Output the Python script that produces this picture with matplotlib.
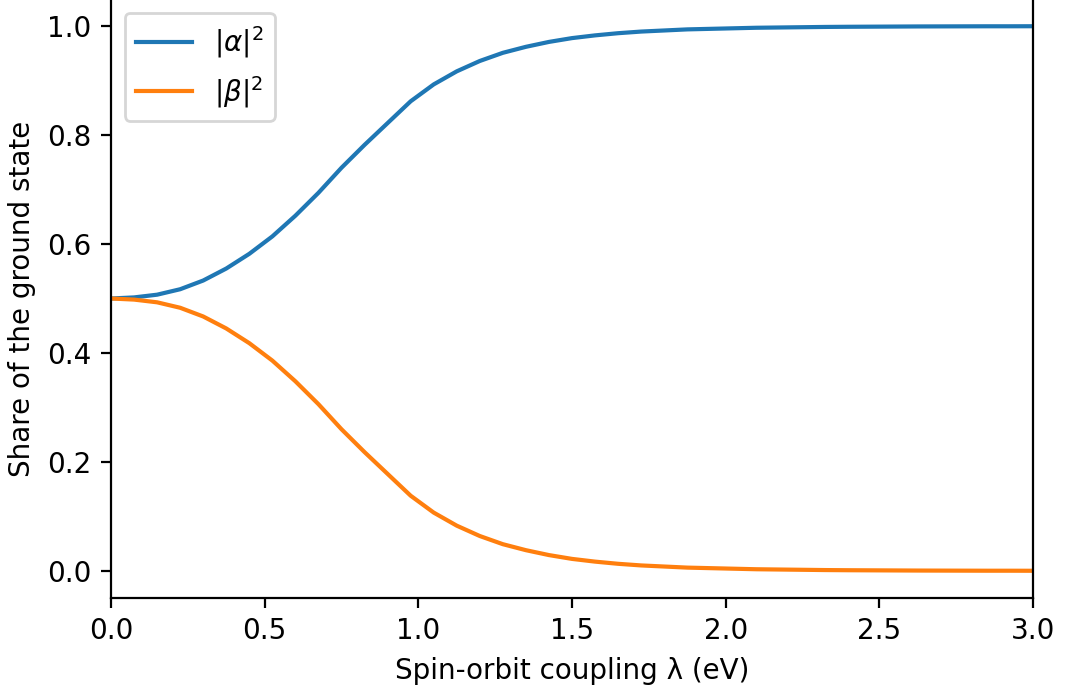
import matplotlib
matplotlib.use("Agg")
import matplotlib.pyplot as plt
import numpy as np

# spin-orbit coupling strength (eV)
lam = np.arange(41) * 0.075

# weight of each basis state in the ground state
alpha_sq = [0.500, 0.502, 0.507, 0.517, 0.533, 0.555, 0.582, 0.614, 0.652, 0.694,
            0.740, 0.782, 0.822, 0.862, 0.893, 0.917, 0.936, 0.951, 0.962, 0.971,
            0.978, 0.983, 0.987, 0.990, 0.992, 0.994, 0.995, 0.996, 0.997, 0.9975,
            0.998, 0.9985, 0.9988, 0.999, 0.9992, 0.9994, 0.9995, 0.9996, 0.9997,
            0.9997, 0.9998]
beta_sq = [0.500, 0.498, 0.493, 0.483, 0.467, 0.445, 0.418, 0.386, 0.348, 0.306,
           0.260, 0.218, 0.178, 0.138, 0.107, 0.083, 0.064, 0.049, 0.038, 0.029,
           0.022, 0.017, 0.013, 0.010, 0.008, 0.006, 0.005, 0.004, 0.003, 0.0025,
           0.002, 0.0015, 0.0012, 0.001, 0.0008, 0.0006, 0.0005, 0.0004, 0.0003,
           0.0003, 0.0002]

dpi = 200
fig = plt.figure(figsize=(1067 / dpi, 688 / dpi), dpi=dpi)
ax = fig.add_axes([111 / 1067, 90 / 688, 922 / 1067, 599 / 688])

ax.plot(lam, alpha_sq, label=r'$|\alpha|^2$')
ax.plot(lam, beta_sq, label=r'$|\beta|^2$')

ax.set_xlim(0, 3)
ax.set_xlabel("Spin-orbit coupling λ (eV)")
ax.set_ylabel("Share of the ground state")
ax.legend(loc="upper left")

fig.savefig("out.png", dpi=dpi)
